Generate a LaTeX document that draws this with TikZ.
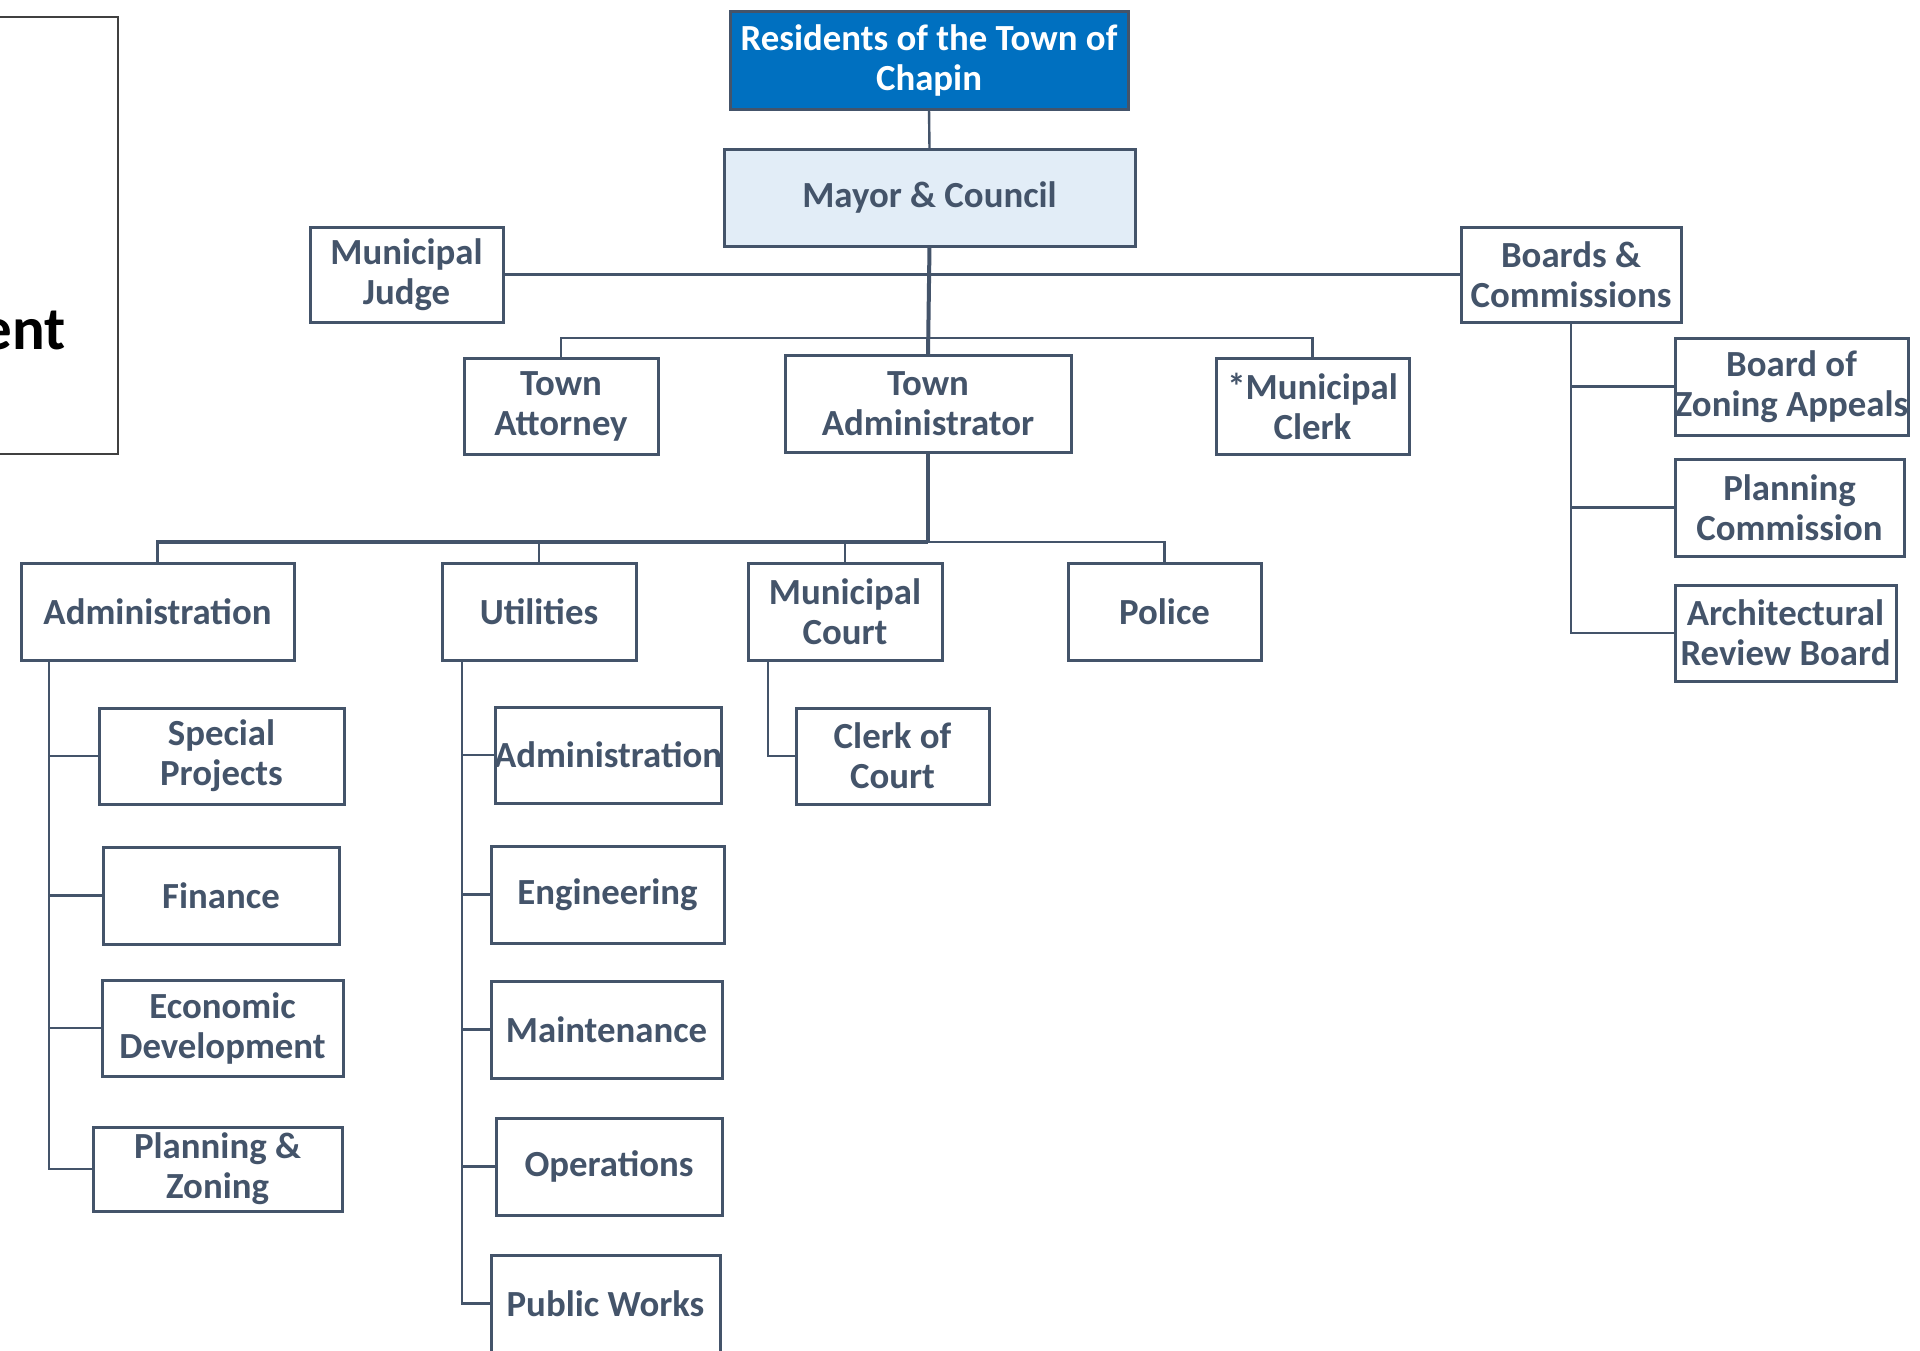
\documentclass[tikz,border=0pt]{standalone}
\usepackage{fontspec}
\setmainfont{Carlito}
\usetikzlibrary{calc}
\definecolor{txt}{HTML}{44546A}
\definecolor{resblue}{HTML}{0070C0}
\definecolor{maylight}{HTML}{E2EDF7}
\tikzset{
  obox/.style={draw=txt, line width=1.5pt, fill=white, inner sep=0pt, outer sep=0pt},
  otext/.style={text=txt, font=\fontsize{18.4pt}{20pt}\selectfont\bfseries, align=center, inner sep=0pt},
  link/.style={draw=txt, line width=1.2pt},
  trunk/.style={draw=txt, line width=2pt},
}
\newcommand\orgbox[7][]{%
  \node[obox,#1,minimum width={(#4-#2)*0.5pt},minimum height={(#5-#3)*0.5pt}] (#6) at ({(#2+#4)/2},{(#3+#5)/2}) {};
  \node[otext] (#6-t) at (#6.center) {#7};}
\begin{document}
\begin{tikzpicture}[x=0.5pt,y=-0.5pt]
\fill[white] (0,0) rectangle (1920,1350);
\useasboundingbox (0,0) rectangle (1920,1350);
\clip (0,0) rectangle (1920,1350);

% left partial box
\node[draw=black!75, line width=1pt, inner sep=0pt, outer sep=0pt, minimum width=208.75pt, minimum height=218.5pt] (legend) at (-91.25,235.5) {};
\node[font=\fontsize{30.5pt}{36pt}\selectfont\bfseries, anchor=base east, inner sep=0pt] (legend-t) at (66,349) {ent};

% top
\node[obox, fill=resblue, minimum width=199pt, minimum height=49pt] (res) at (929,60) {};
\node[otext, text=white] (res-t) at (res.center) {Residents of the Town of\\Chapin};
\orgbox[fill=maylight]{724}{149}{1135}{246}{mayor}{Mayor \& Council}

\orgbox{310}{227}{503}{322}{judge}{Municipal\\Judge}
\orgbox{1461}{227}{1681}{322}{boards}{Boards \&\\Commissions}
\orgbox{464}{358}{658}{454}{att}{Town\\Attorney}
\orgbox{785}{355}{1071}{452}{tadm}{Town\\Administrator}
\orgbox{1216}{358}{1409}{454}{mclerk}{*Municipal\\Clerk}

\orgbox{21}{563}{294}{660}{adm}{Administration}
\orgbox{442}{563}{636}{660}{util}{Utilities}
\orgbox{748}{563}{942}{660}{court}{Municipal\\Court}
\orgbox{1068}{563}{1261}{660}{police}{Police}

\orgbox{99}{708}{344}{804}{sp}{Special\\Projects}
\orgbox{103}{847}{339}{944}{fin}{Finance}
\orgbox{102}{980}{343}{1076}{eco}{Economic\\Development}
\orgbox{93}{1127}{342}{1211}{pz}{Planning \&\\Zoning}

\orgbox{495}{707}{721}{803}{uadm}{Administration}
\orgbox{491}{846}{724}{943}{eng}{Engineering}
\orgbox{491}{981}{722}{1078}{maint}{Maintenance}
\orgbox{496}{1118}{722}{1215}{ops}{Operations}
\orgbox{491}{1255}{720}{1352}{pw}{Public Works}

\orgbox{796}{708}{989}{804}{cclerk}{Clerk of\\Court}

\orgbox{1675}{338}{1908}{435}{bza}{Board of\\Zoning Appeals}
\orgbox{1675}{459}{1904}{556}{pc}{Planning\\Commission}
\orgbox{1675}{585}{1896}{681}{arb}{Architectural\\Review Board}

% connectors
\path (mayor.south) ++(0,92) coordinate (b1);
\path (tadm.south) ++(0,90) coordinate (b2);
\draw[link] (res.south) -- (mayor.north);
\draw[trunk] (mayor.south) -- (tadm.north);
\draw[link] (judge.east) -- (boards.west);
\draw[link] (att.north) |- (b1) -| (mclerk.north);
\draw[trunk] (tadm.south) -- (b2);
\draw[link, line width=1.6pt] (adm.north) |- (b2);
\draw[link] (b2) -| (police.north);
\draw[link] (util.north) -- (util.north |- b2);
\draw[link] (court.north) -- (court.north |- b2);

\coordinate (av) at ($(adm.south west)+(28,0)$);
\draw[link] (av) |- (pz.west);
\foreach \n in {sp,fin,eco} \draw[link] (\n.west) -- (\n.west -| av);

\coordinate (uv) at ($(util.south west)+(20,0)$);
\draw[link] (uv) |- (pw.west);
\foreach \n in {uadm,eng,maint,ops} \draw[link] (\n.west) -- (\n.west -| uv);

\coordinate (cv) at ($(court.south west)+(20,0)$);
\draw[link] (cv) |- (cclerk.west);

\draw[link] (boards.south) |- (arb.west);
\foreach \n in {bza,pc} \draw[link] (\n.west) -- (\n.west -| boards.south);
\end{tikzpicture}
\end{document}
